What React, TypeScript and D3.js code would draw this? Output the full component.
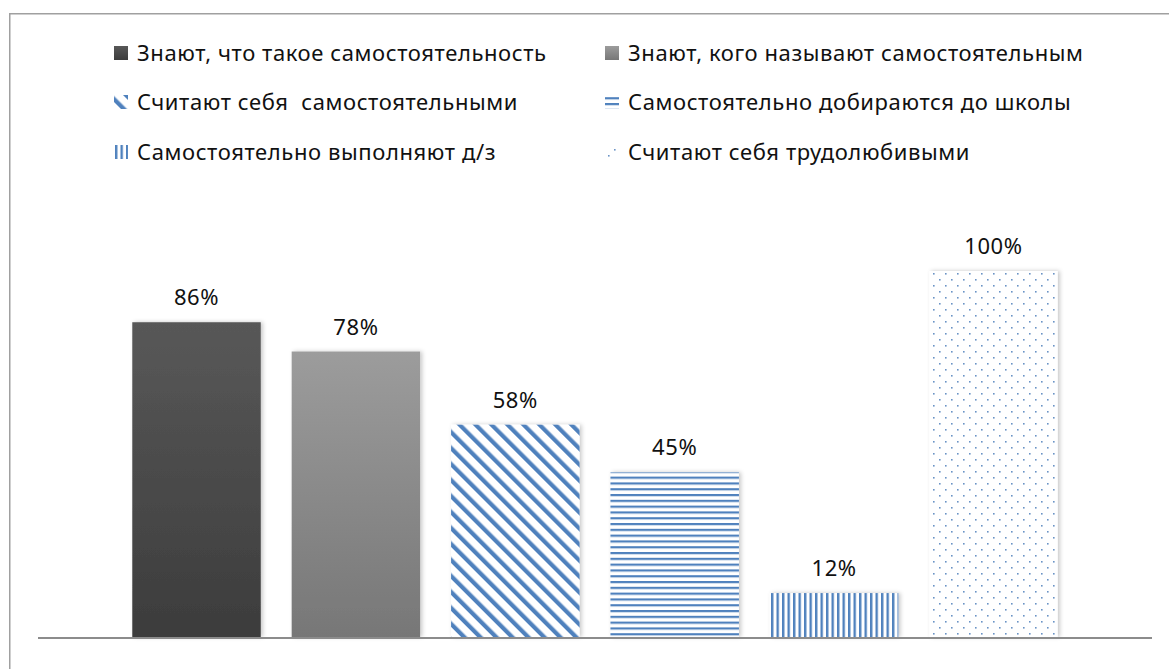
import React, { useRef, useEffect } from "react";
import * as d3 from "d3";

// categories (one per series) and their values, %
const seriesNames = [
  "Знают, что такое самостоятельность",
  "Знают, кого называют самостоятельным",
  "Считают себя  самостоятельными",
  "Самостоятельно добираются до школы",
  "Самостоятельно выполняют д/з",
  "Считают себя трудолюбивыми",
];
const seriesValues = [86, 78, 58, 45, 12, 100];
const seriesFills = ["url(#gDark)", "url(#gGray)", "url(#pDiag)", "url(#pHoriz)", "url(#pVert)", "url(#pDots)"];

const W = 1169;
const H = 669;
const FONT = "'Noto Sans', 'Open Sans', sans-serif";

const App = () => {
  const svgRef = useRef(null);

  useEffect(() => {
    const svg = d3.select(svgRef.current);
    svg.selectAll("*").remove();

    const margin = { top: 271, left: 38, right: 17, bottom: 32 };
    const baseY = H - margin.bottom;

    const defs = svg.append("defs");

    const grad = (id, c1, c2) => {
      const g = defs.append("linearGradient").attr("id", id)
        .attr("x1", 0).attr("y1", 0).attr("x2", 0).attr("y2", 1);
      g.append("stop").attr("offset", "0%").attr("stop-color", c1);
      g.append("stop").attr("offset", "100%").attr("stop-color", c2);
    };
    grad("gDark", "#585858", "#3c3c3c");
    grad("gGray", "#9c9c9c", "#777777");

    const blue = "#4f81bd";

    // wide downward diagonal
    const pd = defs.append("pattern").attr("id", "pDiag")
      .attr("patternUnits", "userSpaceOnUse")
      .attr("width", 11.3).attr("height", 11.3)
      .attr("patternTransform", "rotate(-45)");
    pd.append("rect").attr("width", 11.3).attr("height", 11.3).attr("fill", "#fff");
    pd.append("rect").attr("width", 4.2).attr("height", 11.3).attr("fill", blue);

    // horizontal lines
    const ph = defs.append("pattern").attr("id", "pHoriz")
      .attr("patternUnits", "userSpaceOnUse")
      .attr("width", 8).attr("height", 5.8).attr("y", 1);
    ph.append("rect").attr("width", 8).attr("height", 5.8).attr("fill", "#fff");
    ph.append("rect").attr("width", 8).attr("height", 2.2).attr("fill", blue);

    // vertical lines
    const pv = defs.append("pattern").attr("id", "pVert")
      .attr("patternUnits", "userSpaceOnUse")
      .attr("width", 5.5).attr("height", 8).attr("x", 1);
    pv.append("rect").attr("width", 5.5).attr("height", 8).attr("fill", "#fff");
    pv.append("rect").attr("width", 2.4).attr("height", 8).attr("fill", blue);

    // dotted
    const pdots = defs.append("pattern").attr("id", "pDots")
      .attr("patternUnits", "userSpaceOnUse")
      .attr("width", 12).attr("height", 12).attr("x", 2).attr("y", 2);
    pdots.append("rect").attr("width", 12).attr("height", 12).attr("fill", "#fff");
    pdots.append("rect").attr("x", 1).attr("y", 1).attr("width", 1.6).attr("height", 1.6).attr("fill", "#6b93c6");
    pdots.append("rect").attr("x", 7).attr("y", 7).attr("width", 1.6).attr("height", 1.6).attr("fill", "#6b93c6");

    const shadow = defs.append("filter").attr("id", "shadow")
      .attr("x", "-10%").attr("y", "-10%").attr("width", "130%").attr("height", "120%");
    shadow.append("feDropShadow").attr("dx", 2).attr("dy", 0).attr("stdDeviation", 2)
      .attr("flood-color", "#000").attr("flood-opacity", 0.22);

    // frame
    svg.append("rect")
      .attr("x", 9.75).attr("y", 13.75)
      .attr("width", W + 20).attr("height", H + 20)
      .attr("fill", "none")
      .attr("stroke", "#a0a0a0")
      .attr("stroke-width", 1.5);

    const xScale = d3.scaleBand()
      .domain(seriesNames)
      .range([margin.left, W - margin.right])
      .paddingInner(0.194)
      .paddingOuter(0.5915);

    const yScale = d3.scaleLinear()
      .domain([0, 100])
      .range([baseY, margin.top]);

    const data = seriesNames.map((name, i) => ({ name, value: seriesValues[i], fill: seriesFills[i] }));

    svg.selectAll(".bar")
      .data(data)
      .enter()
      .append("rect")
      .attr("class", "bar")
      .attr("x", d => xScale(d.name))
      .attr("y", d => yScale(d.value))
      .attr("width", xScale.bandwidth())
      .attr("height", d => baseY - yScale(d.value))
      .attr("fill", d => d.fill)
      .attr("filter", "url(#shadow)");

    svg.selectAll(".val")
      .data(data)
      .enter()
      .append("text")
      .attr("class", "val")
      .attr("x", d => xScale(d.name) + xScale.bandwidth() / 2)
      .attr("y", d => yScale(d.value) - 17)
      .attr("text-anchor", "middle")
      .attr("font-family", FONT)
      .attr("font-size", "22px")
      .attr("letter-spacing", "0.6px")
      .attr("fill", "#111")
      .text(d => `${d.value}%`);

    // category axis line
    svg.append("line")
      .attr("x1", margin.left).attr("x2", W - margin.right)
      .attr("y1", baseY + 1).attr("y2", baseY + 1)
      .attr("stroke", "#8c8c8c")
      .attr("stroke-width", 2);

    // Legend
    const legendCols = [114, 605];
    const legendRows = [53, 102, 152];
    const legend = svg.selectAll(".legend")
      .data(data)
      .enter()
      .append("g")
      .attr("class", "legend")
      .attr("transform", (d, i) => `translate(${legendCols[i % 2]}, ${legendRows[Math.floor(i / 2)]})`);

    legend.append("rect")
      .attr("x", 0).attr("y", -7)
      .attr("width", 14).attr("height", 14)
      .attr("fill", d => d.fill);

    legend.append("text")
      .attr("x", 23)
      .attr("y", 8)
      .attr("font-family", FONT)
      .attr("font-size", "22px")
      .attr("letter-spacing", "0.6px")
      .attr("fill", "#111")
      .style("white-space", "pre")
      .text(d => d.name);
  }, []);

  return (
    <div style={{ position: "absolute", left: 0, top: 0, width: W, height: H, background: "#fff" }}>
      <svg ref={svgRef} width={W} height={H} style={{ display: "block" }}></svg>
    </div>
  );
};

export default App;
